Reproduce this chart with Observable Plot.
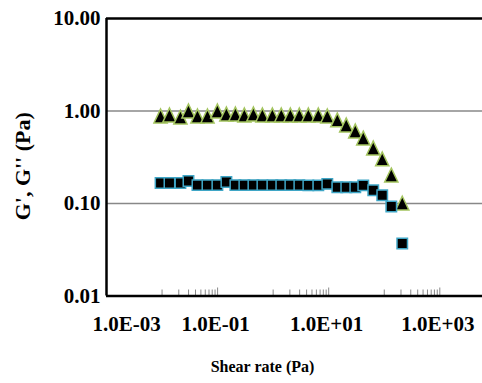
<!DOCTYPE html>
<html><head><meta charset="utf-8">
<script src="https://cdn.jsdelivr.net/npm/d3@7"></script>
<script src="https://cdn.jsdelivr.net/npm/@observablehq/plot@0.6"></script>
<style>html,body{margin:0;padding:0;background:#fff} svg{display:block} svg text{font-family:"Liberation Serif","Times New Roman",serif !important;font-weight:bold}</style>
</head><body><div id="chart"></div>
<script>
// Shear rate (x) shared by both series
const shearRate = [0.0094,0.0136,0.0214,0.0299,0.0434,0.0657,0.0991,0.144,0.209,0.303,0.441,0.640,0.968,1.40,2.04,2.96,4.30,6.50,9.44,14.3,20.7,30.1,41.9,63.4,92.0,134,211];
// G' (triangles)
const gPrime = [0.883,0.905,0.86,1.00,0.883,0.883,1.00,0.928,0.928,0.905,0.928,0.905,0.905,0.905,0.905,0.905,0.905,0.905,0.883,0.80,0.706,0.608,0.51,0.398,0.303,0.203,0.101];
// G'' (squares)
const gDoublePrime = [0.167,0.167,0.167,0.175,0.158,0.158,0.158,0.171,0.158,0.158,0.158,0.158,0.158,0.158,0.158,0.158,0.157,0.157,0.163,0.150,0.150,0.150,0.157,0.139,0.1225,0.093,0.037];

const yTicks = [0.01, 0.1, 1, 10];
const yGrid = [0.1, 1];
const xTicks = [0.001, 0.1, 10, 1000];
const xTickLabels = ["1.0E-03", "1.0E-01", "1.0E+01", "1.0E+03"];
const minorTicks = [0.01,0.02,0.03,0.04,0.05,0.06,0.07,0.08,0.09, 1,2,3,4,5,6,7,8,9, 100,200,300,400,500,600,700,800,900];
const majorInnerTicks = [0.1, 10, 1000];
const xTitle = "Shear rate (Pa)";
const yTitle = "G', G'' (Pa)";

const triData = shearRate.map((x, i) => ({x, y: gPrime[i]}));
const sqData = shearRate.map((x, i) => ({x, y: gDoublePrime[i]}));

const triangleSymbol = {
  draw(ctx, size) {
    const s = Math.sqrt(size / Math.PI);
    const h = s * 1.15, w = s * 1.1;
    ctx.moveTo(0, -h); ctx.lineTo(w, h); ctx.lineTo(-w, h); ctx.closePath();
  }
};

const serif = "Liberation Serif";
const xMax = Math.pow(10, (482 - 106) / 55.55 - 3);

const chart = Plot.plot({
  width: 482,
  height: 383,
  marginLeft: 106,
  marginRight: 0,
  marginTop: 18,
  marginBottom: 87.5,
  style: {fontFamily: serif, fontWeight: "bold", background: "#fff"},
  x: {type: "log", domain: [0.001, xMax], axis: null, label: null},
  y: {type: "log", domain: [0.01, 10], axis: null, label: null},
  marks: [
    Plot.ruleY(yGrid, {stroke: "#888", strokeWidth: 1.5}),
    Plot.axisX(minorTicks, {anchor: "bottom", label: null, tickSize: -6, tickFormat: () => "", stroke: "#888", strokeWidth: 1}),
    Plot.axisX(majorInnerTicks, {anchor: "bottom", label: null, tickSize: -8, tickFormat: () => "", stroke: "#888", strokeWidth: 1}),
    Plot.ruleY([10], {stroke: "#000", strokeWidth: 2.5}),
    Plot.ruleY([0.01], {stroke: "#000", strokeWidth: 2.5}),
    Plot.ruleX([0.001], {stroke: "#000", strokeWidth: 2.5}),
    Plot.dot(triData, {x: "x", y: "y", symbol: triangleSymbol, r: 6, fill: "#000", stroke: "#a3c45e", strokeWidth: 1.5}),
    Plot.dot(sqData, {x: "x", y: "y", symbol: "square", r: 5.9, fill: "#000", stroke: "#3fa6c6", strokeWidth: 1.5}),
    Plot.text(yTicks, {y: d => d, text: d => d3.format(".2f")(d), frameAnchor: "left", textAnchor: "end", dx: -6, fontSize: 21, fontFamily: serif, fontWeight: "bold", fill: "#000"}),
    Plot.text(xTicks.slice(0, 1), {x: d => d, text: (d, i) => xTickLabels[i], frameAnchor: "bottom", dy: 35, dx: 20, fontSize: 21, fontFamily: serif, fontWeight: "bold", fill: "#000"}),
    Plot.text(xTicks.slice(1), {x: d => d, text: (d, i) => xTickLabels[i + 1], frameAnchor: "bottom", dy: 35, dx: -2, fontSize: 21, fontFamily: serif, fontWeight: "bold", fill: "#000"}),
    Plot.text([xTitle], {text: d => d, frameAnchor: "bottom", dy: 76, dx: -32, fontSize: 16, fontFamily: serif, fontWeight: "bold", fill: "#000"}),
    Plot.text([yTitle], {text: d => d, frameAnchor: "left", textAnchor: "middle", rotate: -90, dx: -84, dy: 9, fontSize: 22, fontFamily: serif, fontWeight: "bold", fill: "#000"})
  ]
});
document.getElementById("chart").appendChild(chart);
</script>
</body></html>
